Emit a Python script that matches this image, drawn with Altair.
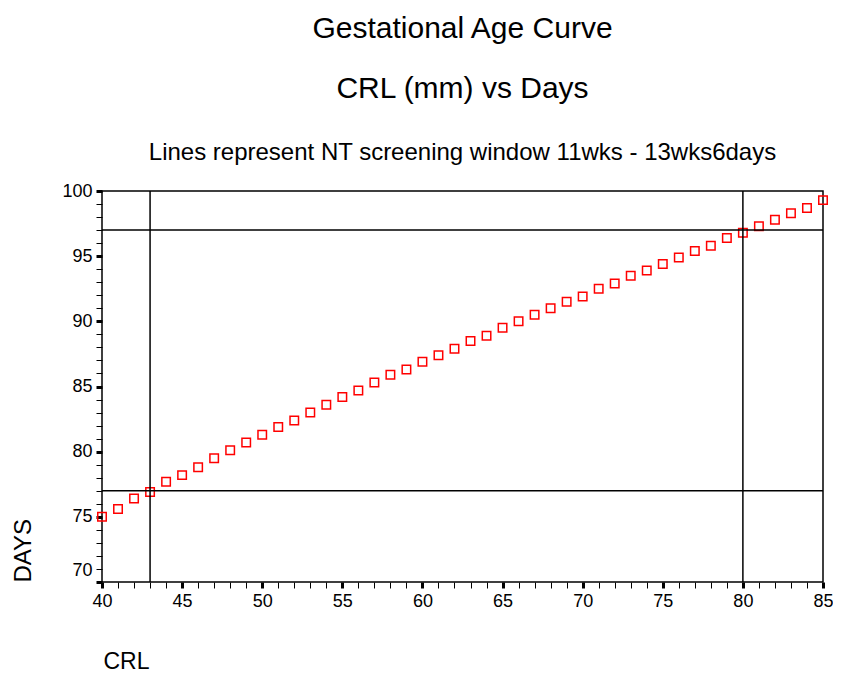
import altair as alt
import pandas as pd

crl = list(range(40, 86))
days = [75.0, 75.6, 76.4, 76.9, 77.7, 78.2, 78.8, 79.5, 80.1, 80.7,
        81.3, 81.9, 82.4, 83.0, 83.6, 84.2, 84.7, 85.3, 85.9, 86.3,
        86.9, 87.4, 87.9, 88.5, 88.9, 89.5, 90.0, 90.5, 91.0, 91.5,
        91.9, 92.5, 92.9, 93.5, 93.9, 94.4, 94.9, 95.4, 95.8, 96.4,
        96.8, 97.3, 97.8, 98.3, 98.7, 99.3]
h_lines = [77, 97]
v_lines = [43, 80]
x_ticks = list(range(40, 86))
y_ticks = list(range(70, 101))

FONT = "Liberation Sans"

df = pd.DataFrame({"CRL": crl, "DAYS": days})

xscale = alt.Scale(domain=[40, 85], nice=False, zero=False)
yscale = alt.Scale(domain=[70, 100], nice=False, zero=False)

major_w = {"condition": {"test": "datum.value % 5 === 0", "value": 3}, "value": 1}

xaxis = alt.Axis(
    values=x_ticks, labelExpr="datum.value % 5 === 0 ? datum.label : ''",
    grid=False, domain=False, tickColor="black", tickSize=6, tickWidth=major_w,
    labelFont=FONT, labelFontSize=18, labelColor="black", labelPadding=4,
    labelFlush=False, labelOverlap=False,
    title="CRL", titleFont=FONT, titleFontSize=23, titleFontWeight="normal",
    titleColor="black", titleAnchor="start", titleAlign="left",
    titleBaseline="middle", titleX=1, titleY=79,
)
yaxis = alt.Axis(
    values=y_ticks, labelExpr="datum.value % 5 === 0 ? datum.label : ''",
    grid=False, domain=False, tickColor="black", tickSize=6, tickWidth=major_w,
    labelFont=FONT, labelFontSize=18, labelColor="black", labelPadding=4,
    labelFlush=False, labelOverlap=False,
    labelOffset=alt.ExprRef("datum.value == 70 ? -12 : 0"),
    title="DAYS", titleFont=FONT, titleFontSize=24, titleFontWeight="normal",
    titleColor="black", titleAnchor="start", titleAlign="left", titleAngle=270,
    titleBaseline="middle", titleX=-79, titleY=391,
)

points = alt.Chart(df).mark_point(
    shape="square", filled=False, color="#ff0000", size=72, strokeWidth=1.5, opacity=1
).encode(
    x=alt.X("CRL:Q", scale=xscale, axis=xaxis),
    y=alt.Y("DAYS:Q", scale=yscale, axis=yaxis),
)

hrules = alt.Chart(pd.DataFrame({"DAYS": h_lines})).mark_rule(
    color="black", strokeWidth=1.5
).encode(y=alt.Y("DAYS:Q", scale=yscale, axis=yaxis))

vrules = alt.Chart(pd.DataFrame({"CRL": v_lines})).mark_rule(
    color="black", strokeWidth=1.5
).encode(x=alt.X("CRL:Q", scale=xscale, axis=xaxis))

chart = alt.layer(points, hrules, vrules).properties(
    width=721, height=391,
    background="white",
    autosize=alt.AutoSizeParams(type="none"),
    padding={"left": 94, "top": 183, "right": 10, "bottom": 90},
    title=alt.TitleParams(
        text=["Gestational Age Curve", "CRL (mm) vs Days"],
        subtitle="Lines represent NT screening window 11wks - 13wks6days",
        font=FONT, fontSize=30, fontWeight="normal", color="black",
        lineHeight=60, anchor="middle",
        subtitleFont=FONT, subtitleFontSize=24, subtitleColor="black",
        subtitlePadding=37, offset=17,
    ),
).configure_view(stroke="black", strokeWidth=1.5)

chart.save("out.html", embed_options={"renderer": "svg", "actions": False})
